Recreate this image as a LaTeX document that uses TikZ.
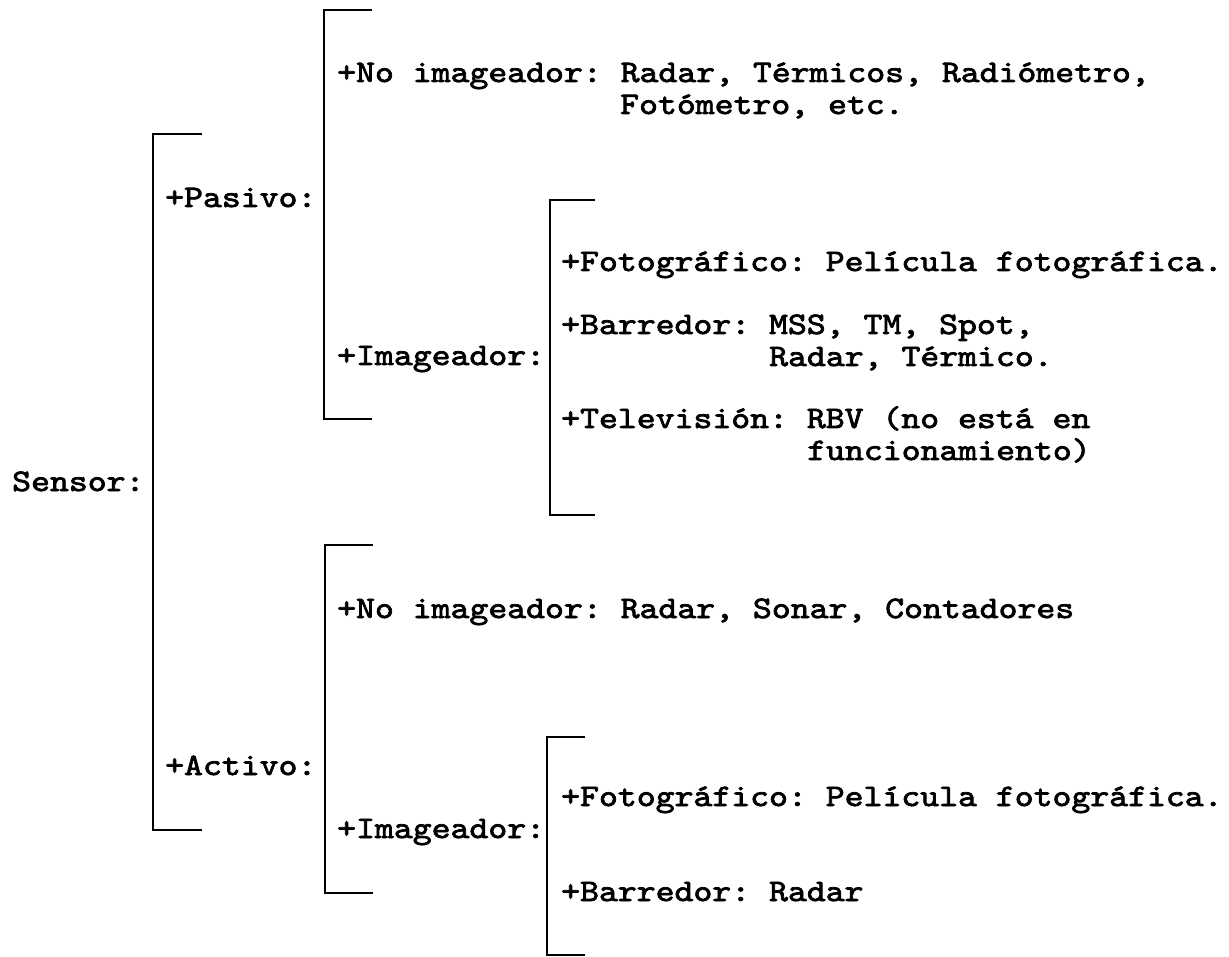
\documentclass[tikz,border=0pt]{standalone}
\usepackage{fontspec}
\usepackage{tikz}
\newfontfamily\scanfont{lmmono10-regular.otf}[FakeStretch=1.15,FakeBold=2.4]
\newcommand\scantext{\fontsize{31.3}{36}\selectfont\scanfont\frenchspacing}

\begin{document}
\begin{tikzpicture}[
		x=1pt,y=-1pt,
		every node/.style={font=\scantext, inner sep=0pt, anchor=base west},
		brak/.style={line width=2.2pt}
		]
		\useasboundingbox (0,0) rectangle (1229,957);
		
		% =========================
		% Root: sensor
		% =========================
		\node (sensor) at (12,491) {Sensor:};
		\draw[brak] (202,134) -- (153,134) -- (153,830) -- (202,830);
		
		\node (pasivo) at (165,207) {+Pasivo:};
		\node (activo) at (165,775) {+Activo:};
		
		% =========================
		% Pasivo branch
		% =========================
		\draw[brak] (372,10) -- (324,10) -- (324,419) -- (372,419);
		
		\node (pasNoImg) at (337,82) {+No imageador: Radar, Térmicos, Radiómetro,};
		\node (pasNoImgB) at (620,114) {Fotómetro, etc.};
		\node (pasImg) at (337,365) {+Imageador:};
		
		\draw[brak] (595,200) -- (550,200) -- (550,515) -- (595,515);
		
		\node (pasFoto) at (561,271) {+Fotográfico: Película fotográfica.};
		\node (pasBarr) at (561,334) {+Barredor: MSS, TM, Spot,};
		\node (pasBarrB) at (769,366) {Radar, Térmico.};
		\node (pasTele) at (561,428) {+Televisión: RBV (no está en};
		\node (pasTeleB) at (807,460) {funcionamiento)};
		
		% =========================
		% Activo branch
		% =========================
		\draw[brak] (373,545) -- (325,545) -- (325,893) -- (373,893);
		
		\node (actNoImg) at (337,618) {+No imageador: Radar, Sonar, Contadores};
		\node (actImg) at (337,838) {+Imageador:};
		
		\draw[brak] (585,737) -- (547,737) -- (547,955) -- (585,955);
		
		\node (actFoto) at (561,806) {+Fotográfico: Película fotográfica.};
		\node (actBarr) at (561,901) {+Barredor: Radar};
		
	\end{tikzpicture}
\end{document}
